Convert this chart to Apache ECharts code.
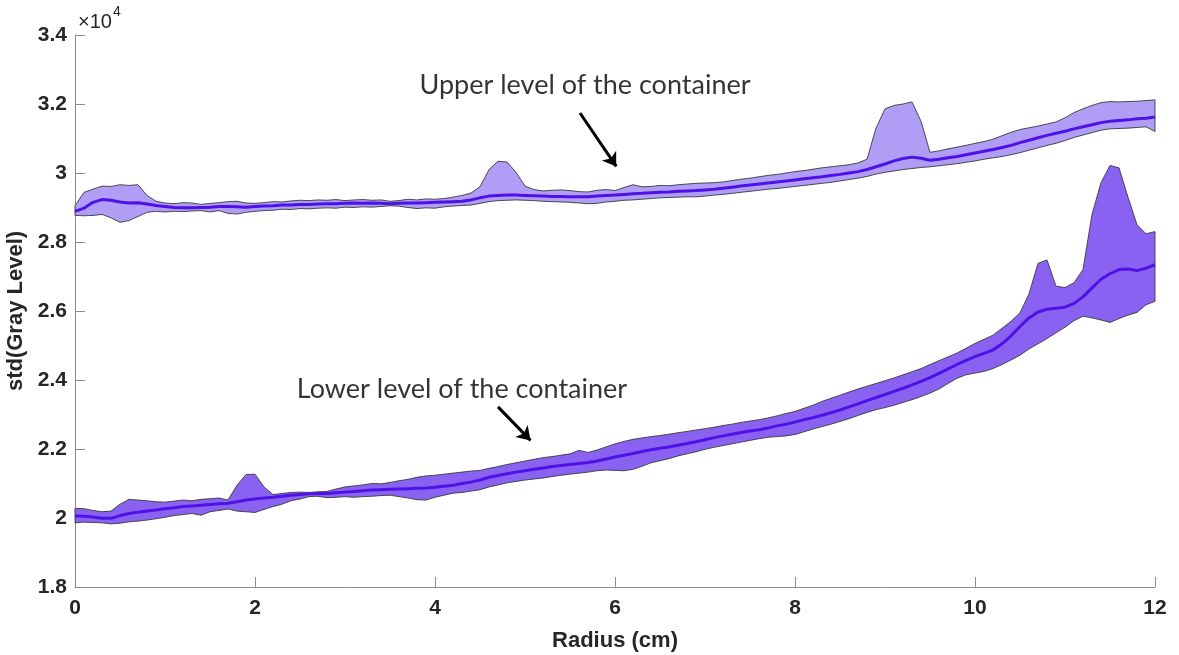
<!DOCTYPE html>
<html>
<head>
<meta charset="utf-8">
<script src="https://cdn.jsdelivr.net/npm/echarts@6/dist/echarts.min.js"></script>
<style>
  html, body { margin: 0; padding: 0; background: #fff; }
  #chart { width: 1179px; height: 655px; }
</style>
</head>
<body>
<div id="chart"></div>
<script>
// Radius samples (cm)
const radius = [
  0.0,0.1,0.2,0.3,0.4,0.5,0.6,0.7,0.8,0.9,
  1.0,1.1,1.2,1.3,1.4,1.5,1.6,1.7,1.8,1.9,
  2.0,2.1,2.2,2.3,2.4,2.5,2.6,2.7,2.8,2.9,
  3.0,3.1,3.2,3.3,3.4,3.5,3.6,3.7,3.8,3.9,
  4.0,4.1,4.2,4.3,4.4,4.5,4.6,4.7,4.8,4.9,
  5.0,5.1,5.2,5.3,5.4,5.5,5.6,5.7,5.8,5.9,
  6.0,6.1,6.2,6.3,6.4,6.5,6.6,6.7,6.8,6.9,
  7.0,7.1,7.2,7.3,7.4,7.5,7.6,7.7,7.8,7.9,
  8.0,8.1,8.2,8.3,8.4,8.5,8.6,8.7,8.8,8.9,
  9.0,9.1,9.2,9.3,9.4,9.5,9.6,9.7,9.8,9.9,
  10.0,10.1,10.2,10.3,10.4,10.5,10.6,10.7,10.8,10.9,
  11.0,11.1,11.2,11.3,11.4,11.5,11.6,11.7,11.8,11.9,
  12.0
];

// Upper level of the container: std(Gray Level) in units of 1e4
const upperMean = [
  2.889,2.898,2.915,2.923,2.921,2.916,2.913,2.914,2.910,2.906,
  2.903,2.900,2.899,2.899,2.900,2.901,2.903,2.903,2.902,2.901,
  2.903,2.904,2.905,2.907,2.907,2.909,2.909,2.910,2.911,2.911,
  2.912,2.913,2.912,2.913,2.912,2.911,2.912,2.913,2.913,2.914,
  2.915,2.916,2.917,2.918,2.922,2.928,2.933,2.935,2.936,2.936,
  2.935,2.934,2.933,2.932,2.932,2.931,2.931,2.931,2.933,2.935,
  2.936,2.938,2.940,2.941,2.943,2.944,2.945,2.947,2.948,2.949,
  2.951,2.953,2.956,2.959,2.962,2.965,2.968,2.971,2.974,2.977,
  2.980,2.983,2.986,2.989,2.993,2.996,3.000,3.004,3.010,3.018,
  3.026,3.035,3.042,3.046,3.043,3.037,3.040,3.044,3.048,3.053,
  3.058,3.063,3.068,3.074,3.080,3.088,3.095,3.102,3.109,3.115,
  3.121,3.128,3.134,3.140,3.146,3.150,3.152,3.154,3.157,3.159,
  3.162
];
const upperHigh = [
  2.905,2.944,2.953,2.962,2.961,2.966,2.964,2.966,2.935,2.918,
  2.913,2.911,2.914,2.913,2.909,2.912,2.914,2.917,2.918,2.913,
  2.912,2.914,2.917,2.916,2.919,2.921,2.920,2.922,2.921,2.923,
  2.920,2.922,2.923,2.921,2.922,2.918,2.920,2.924,2.922,2.925,
  2.924,2.926,2.930,2.935,2.942,2.960,3.010,3.034,3.032,3.002,
  2.962,2.952,2.948,2.950,2.951,2.949,2.946,2.945,2.950,2.952,
  2.949,2.958,2.966,2.960,2.961,2.964,2.963,2.966,2.968,2.970,
  2.971,2.972,2.974,2.978,2.982,2.985,2.989,2.993,2.996,3.000,
  3.004,3.007,3.011,3.015,3.018,3.021,3.024,3.029,3.040,3.130,
  3.186,3.196,3.200,3.206,3.150,3.060,3.064,3.070,3.075,3.080,
  3.086,3.091,3.098,3.108,3.118,3.126,3.131,3.136,3.142,3.148,
  3.160,3.175,3.186,3.196,3.204,3.207,3.206,3.207,3.208,3.210,
  3.212
];
const upperLow = [
  2.877,2.876,2.877,2.880,2.870,2.857,2.862,2.874,2.886,2.889,
  2.887,2.889,2.888,2.890,2.891,2.887,2.891,2.883,2.881,2.886,
  2.889,2.891,2.892,2.895,2.894,2.897,2.896,2.898,2.899,2.898,
  2.901,2.900,2.902,2.901,2.903,2.905,2.904,2.900,2.897,2.899,
  2.898,2.902,2.904,2.906,2.907,2.912,2.917,2.920,2.921,2.922,
  2.921,2.920,2.918,2.917,2.916,2.915,2.913,2.911,2.912,2.916,
  2.918,2.921,2.922,2.924,2.926,2.928,2.929,2.930,2.931,2.931,
  2.933,2.936,2.938,2.941,2.944,2.947,2.950,2.953,2.955,2.958,
  2.961,2.964,2.967,2.970,2.973,2.977,2.981,2.985,2.990,2.997,
  3.002,3.006,3.010,3.013,3.016,3.018,3.021,3.024,3.027,3.031,
  3.035,3.040,3.044,3.048,3.053,3.059,3.066,3.073,3.080,3.086,
  3.094,3.103,3.110,3.117,3.124,3.128,3.129,3.130,3.132,3.134,
  3.120
];

// Lower level of the container: std(Gray Level) in units of 1e4
const lowerMean = [
  2.006,2.005,2.003,1.999,1.999,2.007,2.013,2.017,2.020,2.023,
  2.027,2.030,2.033,2.035,2.037,2.039,2.041,2.043,2.047,2.052,
  2.055,2.058,2.060,2.063,2.066,2.068,2.070,2.071,2.071,2.073,
  2.075,2.077,2.079,2.081,2.082,2.083,2.084,2.085,2.086,2.087,
  2.089,2.092,2.095,2.100,2.104,2.110,2.118,2.123,2.128,2.133,
  2.137,2.141,2.145,2.149,2.152,2.155,2.158,2.161,2.165,2.171,
  2.177,2.182,2.187,2.193,2.198,2.202,2.206,2.211,2.216,2.221,
  2.227,2.233,2.238,2.243,2.248,2.252,2.256,2.261,2.267,2.272,
  2.278,2.285,2.291,2.298,2.305,2.313,2.322,2.331,2.340,2.349,
  2.358,2.367,2.376,2.386,2.396,2.407,2.419,2.432,2.445,2.457,
  2.468,2.477,2.487,2.505,2.528,2.555,2.580,2.597,2.605,2.608,
  2.611,2.622,2.641,2.667,2.692,2.708,2.720,2.722,2.717,2.724,
  2.734
];
const lowerHigh = [
  2.028,2.027,2.022,2.018,2.020,2.040,2.054,2.052,2.050,2.047,
  2.046,2.049,2.052,2.050,2.054,2.056,2.058,2.052,2.095,2.126,
  2.127,2.090,2.068,2.071,2.074,2.075,2.074,2.076,2.077,2.084,
  2.090,2.093,2.096,2.100,2.099,2.103,2.108,2.112,2.118,2.122,
  2.124,2.127,2.130,2.133,2.136,2.138,2.144,2.149,2.155,2.160,
  2.165,2.170,2.175,2.178,2.182,2.186,2.196,2.190,2.197,2.206,
  2.215,2.222,2.228,2.232,2.236,2.239,2.243,2.247,2.251,2.255,
  2.259,2.263,2.268,2.272,2.277,2.281,2.285,2.290,2.296,2.303,
  2.309,2.318,2.327,2.338,2.347,2.356,2.365,2.374,2.382,2.390,
  2.398,2.406,2.415,2.424,2.433,2.445,2.456,2.467,2.478,2.492,
  2.506,2.518,2.530,2.550,2.570,2.595,2.650,2.738,2.748,2.672,
  2.668,2.682,2.720,2.880,2.972,3.022,3.015,2.930,2.850,2.824,
  2.830
];
const lowerLow = [
  1.986,1.988,1.987,1.986,1.983,1.985,1.989,1.991,1.994,1.998,
  2.002,2.007,2.010,2.013,2.008,2.018,2.022,2.026,2.020,2.018,
  2.016,2.025,2.033,2.040,2.050,2.055,2.062,2.063,2.059,2.060,
  2.062,2.060,2.062,2.063,2.065,2.066,2.062,2.058,2.053,2.052,
  2.060,2.066,2.072,2.074,2.078,2.082,2.090,2.096,2.102,2.106,
  2.110,2.113,2.116,2.120,2.124,2.127,2.130,2.133,2.137,2.139,
  2.138,2.137,2.141,2.150,2.160,2.166,2.172,2.180,2.186,2.192,
  2.199,2.205,2.210,2.215,2.220,2.225,2.230,2.234,2.236,2.238,
  2.242,2.250,2.258,2.265,2.272,2.280,2.288,2.297,2.306,2.314,
  2.320,2.327,2.335,2.343,2.352,2.362,2.374,2.390,2.405,2.415,
  2.420,2.425,2.433,2.445,2.458,2.472,2.490,2.505,2.520,2.537,
  2.553,2.572,2.585,2.580,2.574,2.567,2.578,2.588,2.596,2.618,
  2.628
];

// Axis ticks (units of 1e4 for the vertical axis)
const xTicks = [0, 2, 4, 6, 8, 10, 12];
const yTicks = [1.8, 2.0, 2.2, 2.4, 2.6, 2.8, 3.0, 3.2, 3.4];

// Annotation texts and their anchors in data coordinates
const notes = [
  { text: 'Upper level of the container', at: [5.667, 3.255], arrow: [[5.611, 3.174], [6.014, 3.019]] },
  { text: 'Lower level of the container', at: [4.30, 2.374], arrow: [[4.700, 2.322], [5.061, 2.225]] }
];

const AXIS_COLOR = '#8c8c8c';
const TEXT_COLOR = '#262626';
const FONT = '"Liberation Sans", Arial, Helvetica, sans-serif';

function bandSeries(name, lo, hi, fill) {
  return {
    name: name,
    type: 'custom',
    silent: true,
    z: 2,
    data: radius.map((x, i) => [x, lo[i], hi[i]]),
    encode: { x: 0, y: [1, 2] },
    renderItem: function (params, api) {
      if (params.dataIndex !== 0) return null;
      const pts = [];
      for (let i = 0; i < radius.length; i++) pts.push(api.coord([radius[i], hi[i]]));
      for (let i = radius.length - 1; i >= 0; i--) pts.push(api.coord([radius[i], lo[i]]));
      return {
        type: 'polygon',
        shape: { points: pts },
        style: { fill: fill, stroke: '#3a3a3a', lineWidth: 0.9 }
      };
    }
  };
}

function meanSeries(name, mean) {
  return {
    name: name,
    type: 'line',
    z: 3,
    silent: true,
    showSymbol: false,
    symbol: 'none',
    data: radius.map((x, i) => [x, mean[i]]),
    lineStyle: { color: '#4f12e6', width: 3 },
    itemStyle: { color: '#4f12e6' }
  };
}

const chart = echarts.init(document.getElementById('chart'), null, { renderer: 'canvas' });

const option = {
  animation: false,
  backgroundColor: '#ffffff',
  grid: { left: 75, right: 24, top: 35, bottom: 68, containLabel: false, outerBoundsMode: 'none' },
  xAxis: {
    type: 'value',
    min: xTicks[0],
    max: xTicks[xTicks.length - 1],
    interval: xTicks[1] - xTicks[0],
    name: 'Radius (cm)',
    nameLocation: 'middle',
    nameGap: 43,
    nameTextStyle: { fontFamily: FONT, fontWeight: 'bold', fontSize: 22, color: TEXT_COLOR },
    axisLine: { show: true, lineStyle: { color: AXIS_COLOR, width: 1 } },
    axisTick: { show: true, inside: true, length: 10, lineStyle: { color: AXIS_COLOR } },
    axisLabel: { fontFamily: FONT, fontWeight: 'bold', fontSize: 21, color: TEXT_COLOR, margin: 11 },
    splitLine: { show: false }
  },
  yAxis: {
    type: 'value',
    min: yTicks[0],
    max: yTicks[yTicks.length - 1],
    interval: 0.2,
    name: 'std(Gray Level)',
    nameLocation: 'middle',
    nameGap: 43,
    nameTextStyle: { fontFamily: FONT, fontWeight: 'bold', fontSize: 22, color: TEXT_COLOR },
    axisLine: { show: true, lineStyle: { color: AXIS_COLOR, width: 1 } },
    axisTick: { show: true, inside: true, length: 10, lineStyle: { color: AXIS_COLOR } },
    axisLabel: {
      fontFamily: FONT, fontWeight: 'bold', fontSize: 21, color: TEXT_COLOR, margin: 8,
      formatter: v => String(+v.toFixed(1))
    },
    splitLine: { show: false }
  },
  graphic: [
    { type: 'text', left: 78, top: 12, silent: true,
      style: { text: '×10', fontFamily: FONT, fontSize: 20, fill: TEXT_COLOR } },
    { type: 'text', left: 113, top: 5, silent: true,
      style: { text: '4', fontFamily: FONT, fontSize: 14, fill: TEXT_COLOR } }
  ],
  series: [
    bandSeries('upperBand', upperLow, upperHigh, '#b09df5'),
    bandSeries('lowerBand', lowerLow, lowerHigh, '#8a62f1'),
    meanSeries('upperMean', upperMean),
    meanSeries('lowerMean', lowerMean),
    {
      name: 'notes',
      type: 'scatter',
      z: 5,
      silent: true,
      symbolSize: 1,
      itemStyle: { color: 'rgba(0,0,0,0)' },
      data: notes.map(n => ({ value: n.at, label: { formatter: n.text } })),
      label: {
        show: true,
        position: 'inside',
        fontFamily: 'Lato, "Open Sans", sans-serif',
        fontSize: 27,
        color: '#000000'
      },
      markLine: {
        silent: true,
        symbol: ['none', 'arrow'],
        symbolSize: 13,
        label: { show: false },
        lineStyle: { color: '#000000', width: 3, type: 'solid' },
        data: notes.map(n => [{ coord: n.arrow[0] }, { coord: n.arrow[1] }])
      }
    }
  ]
};

chart.setOption(option);
</script>
</body>
</html>
